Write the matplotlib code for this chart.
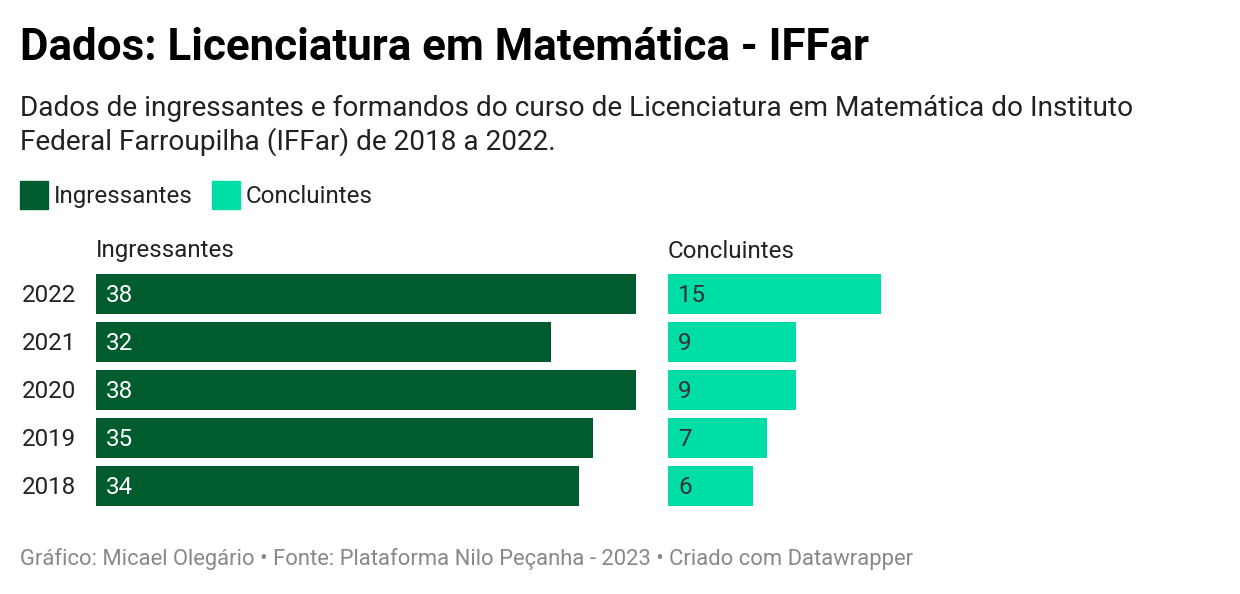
import matplotlib.pyplot as plt

# data
anos = ["2022", "2021", "2020", "2019", "2018"]
ingressantes = [38, 32, 38, 35, 34]
concluintes = [15, 9, 9, 7, 6]

cor_ingr = "#005c2f"
cor_concl = "#00dea8"

W, H = 1240, 594
plt.rcParams["font.family"] = ["Roboto", "DejaVu Sans"]

fig = plt.figure(figsize=(W / 100, H / 100), dpi=100)


def fx(px):
    return px / W


def fy(py):
    return 1 - py / H


# title / subtitle
fig.text(fx(20), fy(48), "Dados: Licenciatura em Matemática - IFFar",
         fontsize=31.6, fontweight="bold", va="center", ha="left", color="#000000")
fig.text(fx(20), fy(108), "Dados de ingressantes e formandos do curso de Licenciatura em Matemática do Instituto",
         fontsize=20.2, va="center", ha="left", color="#222222")
fig.text(fx(20), fy(142), "Federal Farroupilha (IFFar) de 2018 a 2022.",
         fontsize=20.2, va="center", ha="left", color="#222222")

# legend
for x0, cor, nome in [(20, cor_ingr, "Ingressantes"), (212, cor_concl, "Concluintes")]:
    fig.patches.append(plt.Rectangle((fx(x0), fy(209)), fx(28), 28 / H,
                                     transform=fig.transFigure, color=cor))
    fig.text(fx(x0 + 34), fy(196), nome, fontsize=17.4, va="center", ha="left", color="#222222")

# bars
scale = 540 / 38  # px per unit
top, bottom = 270, 510
panels = [(96, ingressantes, cor_ingr, "#ffffff", "Ingressantes"),
          (668, concluintes, cor_concl, "#333333", "Concluintes")]
for x0, vals, cor, txtcor, nome in panels:
    width_px = 552
    ax = fig.add_axes([fx(x0), fy(bottom), fx(width_px), (bottom - top) / H])
    ypos = list(range(len(anos)))
    ax.barh(ypos, vals, height=40 / 48, color=cor)
    ax.set_xlim(0, width_px / scale)
    ax.set_ylim(len(anos) - 0.5, -0.5)
    ax.axis("off")
    for y, v in zip(ypos, vals):
        ax.text(10 / scale, y + 2 / 48, str(v), fontsize=17.4, va="center", ha="left", color=txtcor)
    fig.text(fx(x0), fy(251), nome, fontsize=17.4, va="center", ha="left", color="#222222")

for i, ano in enumerate(anos):
    fig.text(fx(22), fy(296 + 48 * i), ano, fontsize=17.4, va="center", ha="left", color="#222222")

fig.text(fx(20), fy(559), "Gráfico: Micael Olegário • Fonte: Plataforma Nilo Peçanha - 2023 • Criado com Datawrapper",
         fontsize=15.8, va="center", ha="left", color="#888888")

fig.savefig("out.png", dpi=100, facecolor="white")
